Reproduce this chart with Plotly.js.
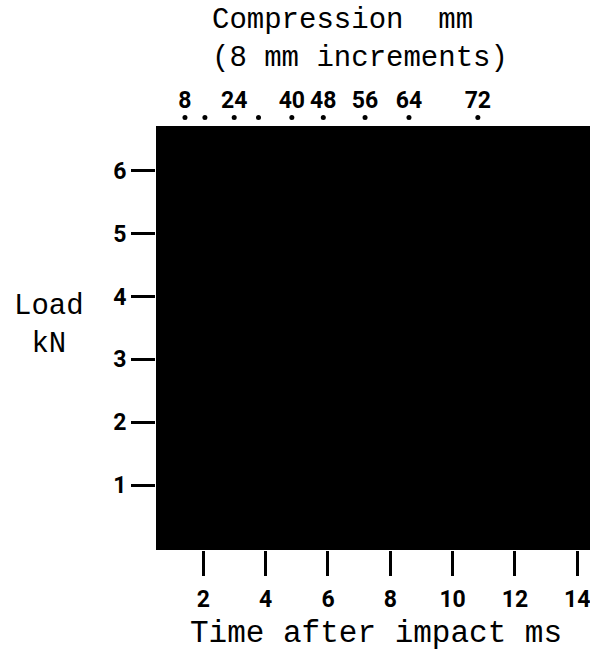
<!DOCTYPE html>
<html>
<head>
<meta charset="utf-8">
<script src="https://cdn.plot.ly/plotly-3.0.1.min.js"></script>
<style>html,body{margin:0;padding:0;background:#fff;}#chart{width:590px;height:658px;}</style>
</head>
<body>
<div id="chart"></div>
<script>
// Time axis ticks (ms) and load axis ticks (kN)
const timeTicks = [2, 4, 6, 8, 10, 12, 14];
const loadTicks = [1, 2, 3, 4, 5, 6];
// Compression markers (8 mm increments) and the time at which each is reached
const compressionMm = [8, 16, 24, 32, 40, 48, 56, 64, 72];
const compressionTime = [1.41, 2.05, 2.99, 3.77, 4.84, 5.85, 7.19, 8.60, 10.81];
const compressionLabels = ['8', '', '24', '', '40', '48', '56', '64', '72'];
const markerLevel = compressionMm.map(() => 6.85);

const tickFont = {family: 'Liberation Sans Narrow, Roboto, DejaVu Sans Condensed', size: 23, color: '#000', weight: 'bold'};
const monoFont = {family: 'Liberation Mono, Courier New, monospace', size: 29, color: '#000'};
const monoFontBig = {family: 'Liberation Mono, Courier New, monospace', size: 31, color: '#000'};

const traces = [{
  type: 'scatter',
  mode: 'markers+text',
  x: compressionTime,
  y: markerLevel,
  text: compressionLabels,
  textposition: 'top center',
  textfont: tickFont,
  marker: {color: '#000', size: 5},
  cliponaxis: false,
  hoverinfo: 'skip',
  showlegend: false
}];

const layout = {
  width: 590, height: 658,
  margin: {l: 156, r: 0, t: 110, b: 108, pad: 0},
  paper_bgcolor: '#fff',
  plot_bgcolor: '#fff',
  showlegend: false,
  xaxis: {
    range: [0.48, 14.41],
    tickvals: timeTicks,
    ticktext: timeTicks.map(String),
    ticks: 'outside', ticklen: 25, tickwidth: 3, tickcolor: '#000',
    ticklabelstandoff: 3,
    ticklabeloverflow: 'allow',
    showgrid: false, zeroline: false, showline: false,
    tickfont: tickFont
  },
  yaxis: {
    range: [-0.035, 6.971],
    tickvals: loadTicks,
    ticktext: loadTicks.map(String),
    ticks: 'outside', ticklen: 24, tickwidth: 3, tickcolor: '#000',
    showgrid: false, zeroline: false, showline: false,
    tickfont: tickFont
  },
  shapes: [
    {type: 'rect', layer: 'below', xref: 'paper', x0: 0, x1: 1, yref: 'y', y0: -0.035, y1: 6.717,
     fillcolor: '#000', line: {width: 0}}
  ],
  annotations: [
    {text: 'Compression\u00a0\u00a0mm<br>(8 mm increments)', xref: 'paper', yref: 'paper',
     x: (210 - 156) / 434, y: (550 - 40) / 440, align: 'left',
     xanchor: 'left', yanchor: 'middle', showarrow: false, font: monoFont},
    {text: 'Time after impact ms', xref: 'paper', yref: 'paper', x: 0.507, y: -0.19,
     xanchor: 'center', yanchor: 'middle', showarrow: false, font: monoFontBig},
    {text: 'Load<br>kN', xref: 'paper', yref: 'paper', x: -0.2465, y: (550 - 325) / 440,
     xanchor: 'center', yanchor: 'middle', showarrow: false, font: monoFont}
  ]
};

Plotly.newPlot('chart', traces, layout, {displayModeBar: false, staticPlot: true});
</script>
</body>
</html>
